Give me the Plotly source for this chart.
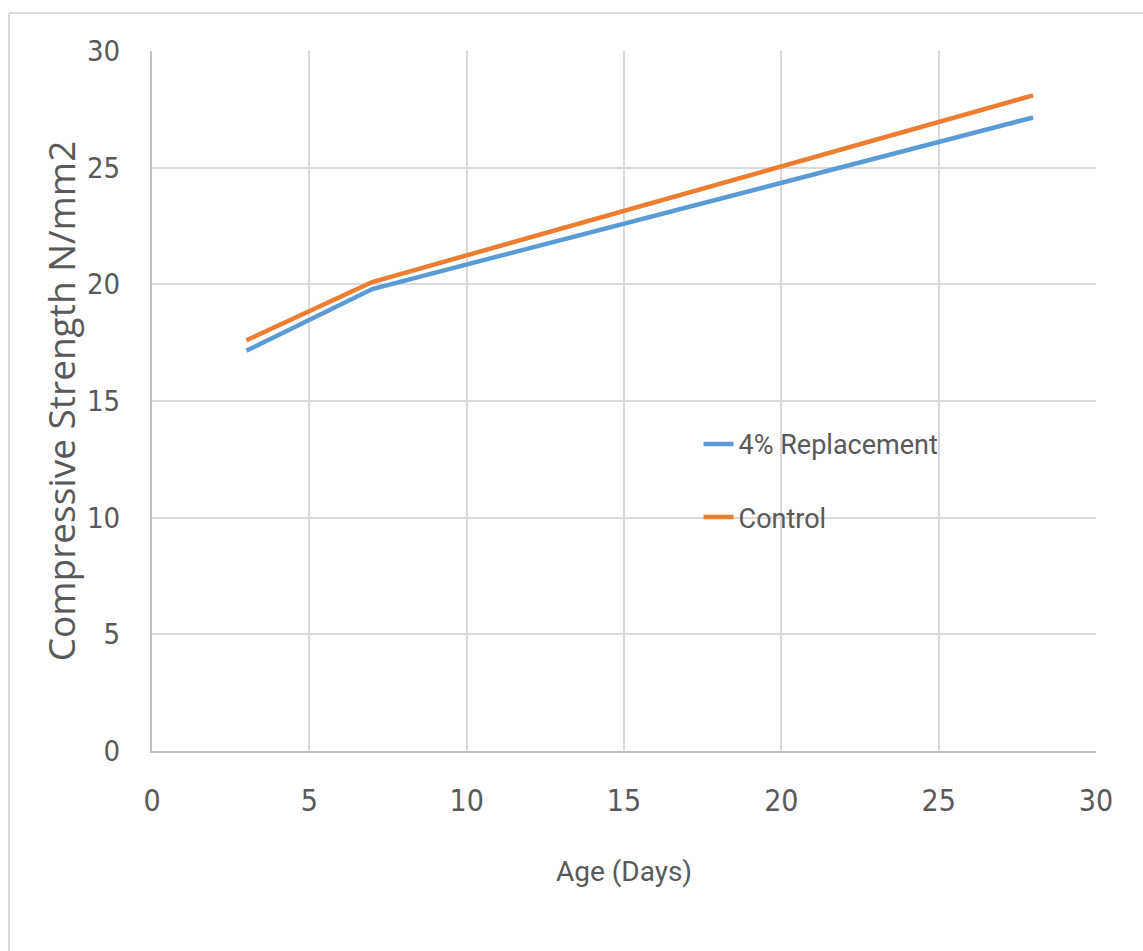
import plotly.graph_objects as go

age_days = [3, 7, 28]
replacement_4 = [17.15, 19.8, 27.15]
control = [17.6, 20.1, 28.1]
series_names = ["4% Replacement", "Control"]
x_ticks = [0, 5, 10, 15, 20, 25, 30]
y_ticks = [0, 5, 10, 15, 20, 25, 30]

TXT = "#595959"
GRID = "#d9d9d9"
NARROW = "DejaVu Sans Condensed, Roboto, sans-serif"

fig = go.Figure()
fig.add_trace(go.Scatter(x=age_days, y=replacement_4, mode="lines", name=series_names[0],
                         legendgroup="a", line=dict(color="#5b9bd5", width=4.5)))
fig.add_trace(go.Scatter(x=age_days, y=control, mode="lines", name=series_names[1],
                         legendgroup="b", line=dict(color="#ed7d31", width=4.5)))

fig.update_layout(
    width=1143, height=951,
    margin=dict(l=152, r=47, t=51, b=200),
    paper_bgcolor="white", plot_bgcolor="white",
    font=dict(family=NARROW, color=TXT, size=30),
    showlegend=True,
    legend=dict(x=0.579, y=0.473, xanchor="left", yanchor="top",
                bgcolor="rgba(0,0,0,0)", font=dict(size=27, color=TXT, family="Roboto, sans-serif"),
                tracegroupgap=35),
    xaxis=dict(range=[0, 30], tickvals=x_ticks, showgrid=True, gridcolor=GRID, gridwidth=1.5,
               showline=True, linecolor="#bfbfbf", linewidth=2, zeroline=False,
               ticks="", ticklabelstandoff=22,
               title=dict(text="Age (Days)", font=dict(size=28, family="Roboto, sans-serif", color=TXT), standoff=44)),
    yaxis=dict(range=[0, 30], tickvals=y_ticks, showgrid=True, gridcolor=GRID, gridwidth=1.5,
               showline=True, linecolor="#bfbfbf", linewidth=2, zeroline=False,
               ticks="", ticklabelstandoff=24, tickfont=dict(size=29),
               title=dict(text="Compressive Strength N/mm2",
                          font=dict(size=37, family="Open Sans, sans-serif", color=TXT), standoff=0)),
)

fig.add_shape(type="line", xref="paper", yref="paper",
              x0=(9 - 152) / 944, x1=(1143 - 152) / 944,
              y0=1 + (51 - 13) / 700, y1=1 + (51 - 13) / 700,
              line=dict(color=GRID, width=2))
fig.add_shape(type="line", xref="paper", yref="paper",
              x0=(9 - 152) / 944, x1=(9 - 152) / 944,
              y0=1 + (51 - 13) / 700, y1=-(951 - 751) / 700,
              line=dict(color=GRID, width=2))

fig.write_html("out.html")
